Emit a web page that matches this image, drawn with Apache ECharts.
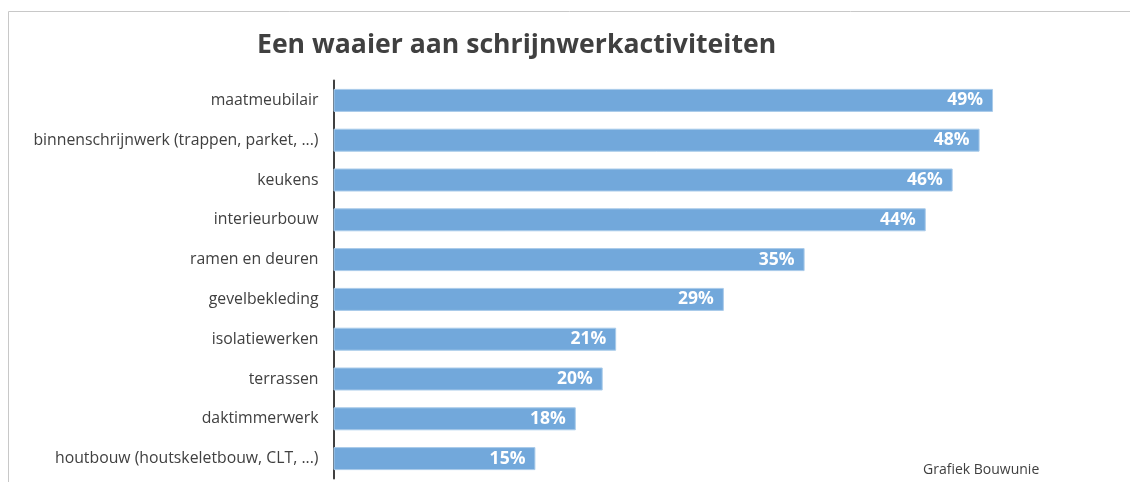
<!DOCTYPE html>
<html>
<head>
<meta charset="utf-8">
<script src="https://cdn.jsdelivr.net/npm/echarts@6/dist/echarts.min.js"></script>
<style>
  html, body { margin: 0; padding: 0; background: #fff; }
  #chart { width: 1130px; height: 482px; }
</style>
</head>
<body>
<div id="chart"></div>
<script>
// activiteiten, van onder naar boven (category axis begint onderaan)
var categories = [
  'houtbouw (houtskeletbouw, CLT, ...)',
  'daktimmerwerk',
  'terrassen',
  'isolatiewerken',
  'gevelbekleding',
  'ramen en deuren',
  'interieurbouw',
  'keukens',
  'binnenschrijnwerk (trappen, parket, ...)',
  'maatmeubilair'
];
var percentages = [15, 18, 20, 21, 29, 35, 44, 46, 48, 49];

var chart = echarts.init(document.getElementById('chart'));

var option = {
  animation: false,
  title: {
    text: 'Een waaier aan schrijnwerkactiviteiten',
    left: 252,
    top: 27,
    textStyle: {
      fontFamily: 'Open Sans',
      fontSize: 26.6,
      fontWeight: 'bold',
      color: '#404040'
    }
  },
  grid: {
    left: 333.5,
    top: 80.5,
    width: 673,
    height: 398
  },
  xAxis: {
    type: 'value',
    min: 0,
    max: 50,
    show: false
  },
  yAxis: {
    type: 'category',
    data: categories,
    axisLine: { lineStyle: { color: '#404040', width: 2 } },
    axisTick: { show: false },
    axisLabel: {
      margin: 15,
      padding: [3, 0, 0, 0],
      fontFamily: 'Open Sans',
      fontSize: 15.8,
      color: '#404040'
    }
  },
  series: [{
    type: 'bar',
    data: percentages,
    barWidth: 23,
    itemStyle: {
      color: '#72A8DB',
      borderColor: '#A9CBEA',
      borderWidth: 1
    },
    label: {
      show: true,
      position: 'insideRight',
      distance: 10,
      formatter: '{c}%',
      color: '#fff',
      fontFamily: 'Open Sans',
      fontWeight: 'bold',
      fontSize: 17.5
    }
  }],
  graphic: [
    {
      type: 'rect',
      shape: { x: 8.5, y: 11.5, width: 1140, height: 500 },
      style: { fill: 'none', stroke: '#c8c8c8', lineWidth: 1 },
      silent: true
    },
    {
      type: 'text',
      left: 923,
      top: 463,
      style: {
        text: 'Grafiek Bouwunie',
        fontFamily: 'Open Sans',
        fontSize: 14,
        fill: '#404040'
      }
    }
  ]
};

chart.setOption(option);
</script>
</body>
</html>
